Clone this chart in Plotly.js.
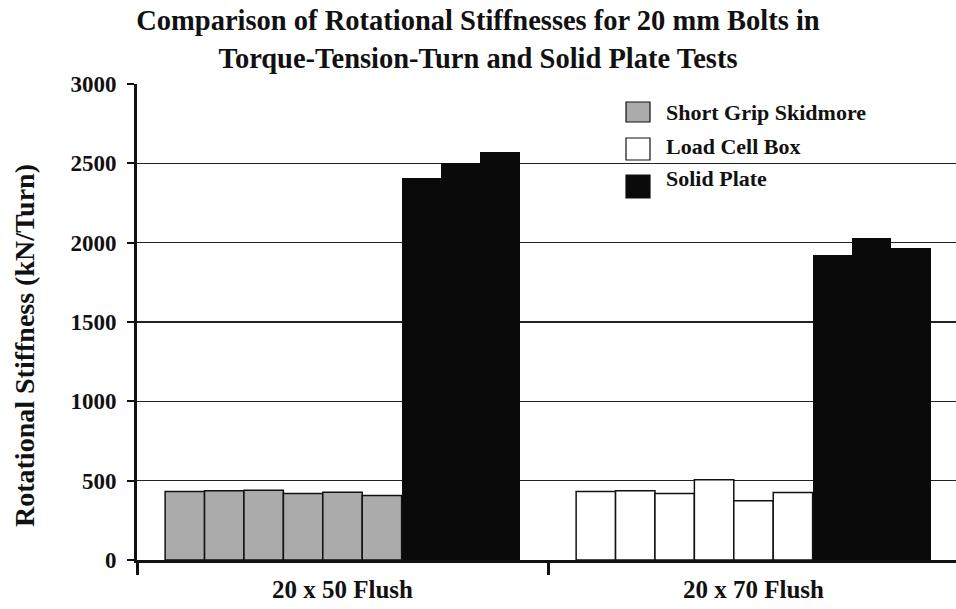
<!DOCTYPE html>
<html>
<head>
<meta charset="utf-8">
<script src="https://cdn.plot.ly/plotly-3.0.1.min.js"></script>
<style>html,body{margin:0;padding:0;background:#fff;}#chart{width:956px;height:609px;}</style>
</head>
<body>
<div id="chart"></div>
<script>
// ---- data ----
const categories = ['20 x 50 Flush', '20 x 70 Flush'];
const seriesNames = ['Short Grip Skidmore', 'Load Cell Box', 'Solid Plate'];
const skidmore50 = [431, 436, 440, 419, 427, 407];
const loadCell70 = [431, 436, 419, 506, 374, 426];
const solidPlate50 = [2405, 2500, 2574];
const solidPlate70 = [1922, 2030, 1968];
const yTicks = [0, 500, 1000, 1500, 2000, 2500, 3000];
const yTitle = 'Rotational Stiffness (kN/Turn)';

// ---- layout helpers ----
const W = 956, H = 609;
const M = {l: 137, r: 0, t: 84, b: 49};
const FONT = 'Liberation Serif, Times New Roman, serif';
const slotsPerGroup = 9;
const barW = 0.0959;
function offsetFor(slot) { return -slotsPerGroup / 2 * barW + slot * barW; }

const colors = {fill: ['#ababab', '#ffffff', '#0a0a0a'], line: ['#111', '#111', '#0a0a0a']};

function barTrace(name, idx, xs, ys, slots) {
  return {
    type: 'bar', name: name, x: xs, y: ys,
    offset: slots.map(offsetFor), width: barW,
    marker: {color: colors.fill[idx], line: {color: colors.line[idx], width: idx === 2 ? 0 : 1.5}},
    showlegend: false, hoverinfo: 'x+y'
  };
}

const traces = [
  barTrace(seriesNames[0], 0, skidmore50.map(() => categories[0]), skidmore50, skidmore50.map((_, i) => i)),
  barTrace(seriesNames[1], 1, loadCell70.map(() => categories[1]), loadCell70, loadCell70.map((_, i) => i)),
  barTrace(seriesNames[2], 2,
    solidPlate50.map(() => categories[0]).concat(solidPlate70.map(() => categories[1])),
    solidPlate50.concat(solidPlate70),
    solidPlate50.map((_, i) => 6 + i).concat(solidPlate70.map((_, i) => 6 + i)))
];

// custom legend (pixel -> paper)
const pw = W - M.l - M.r, ph = H - M.t - M.b;
const px = v => (v - M.l) / pw;
const py = v => (H - M.b - v) / ph;
const legendRows = [
  {sym: [102, 122], text: 112},
  {sym: [138, 160], text: 146},
  {sym: [175, 198], text: 178}
];
const shapes = [], annotations = [];
legendRows.forEach((r, i) => {
  shapes.push({type: 'rect', xref: 'paper', yref: 'paper',
    x0: px(626), x1: px(650), y0: py(r.sym[1]), y1: py(r.sym[0]),
    fillcolor: colors.fill[i], line: {color: '#111', width: 1.2}});
  annotations.push({xref: 'paper', yref: 'paper', x: px(664), y: py(r.text),
    xanchor: 'left', yanchor: 'middle', showarrow: false, text: seriesNames[i],
    font: {family: FONT, size: 22, color: '#111', weight: 'bold'}});
});
// y-axis title
annotations.push({xref: 'paper', yref: 'paper', x: px(24), y: py(346),
  xanchor: 'center', yanchor: 'middle', showarrow: false, textangle: -90, text: yTitle,
  font: {family: FONT, size: 28, color: '#111', weight: 'bold'}});

const layout = {
  width: W, height: H, margin: M,
  paper_bgcolor: '#fff', plot_bgcolor: '#fff',
  barmode: 'overlay', bargap: 0,
  font: {family: FONT, color: '#111', weight: 'bold'},
  title: {
    text: 'Comparison of Rotational Stiffnesses for 20 mm Bolts in<br>Torque-Tension-Turn and Solid Plate Tests',
    x: 0.5, xref: 'container', xanchor: 'center',
    y: 0.95, yref: 'container', yanchor: 'top',
    font: {family: FONT, size: 28.5, color: '#111', weight: 'bold'}
  },
  xaxis: {
    type: 'category', categoryarray: categories, range: [-0.5, 1.4927],
    tickson: 'boundaries', ticks: 'outside', ticklen: 12, tickwidth: 3, tickcolor: '#111',
    showline: true, linecolor: '#111', linewidth: 3, showgrid: false, zeroline: false,
    ticklabelstandoff: 5,
    tickfont: {family: FONT, size: 25, color: '#111', weight: 'bold'}, fixedrange: true
  },
  yaxis: {
    range: [0, 3000], tickvals: yTicks, ticktext: yTicks.map(String),
    ticks: 'outside', ticklen: 7, tickwidth: 2, tickcolor: '#111',
    showline: true, linecolor: '#111', linewidth: 3,
    showgrid: true, gridcolor: '#222', gridwidth: 1.5, zeroline: false,
    ticklabelstandoff: 6,
    tickfont: {family: FONT, size: 23, color: '#111', weight: 'bold'},
    fixedrange: true
  },
  shapes: shapes, annotations: annotations, showlegend: false
};

Plotly.newPlot('chart', traces, layout, {displayModeBar: false, staticPlot: true});
</script>
</body>
</html>
